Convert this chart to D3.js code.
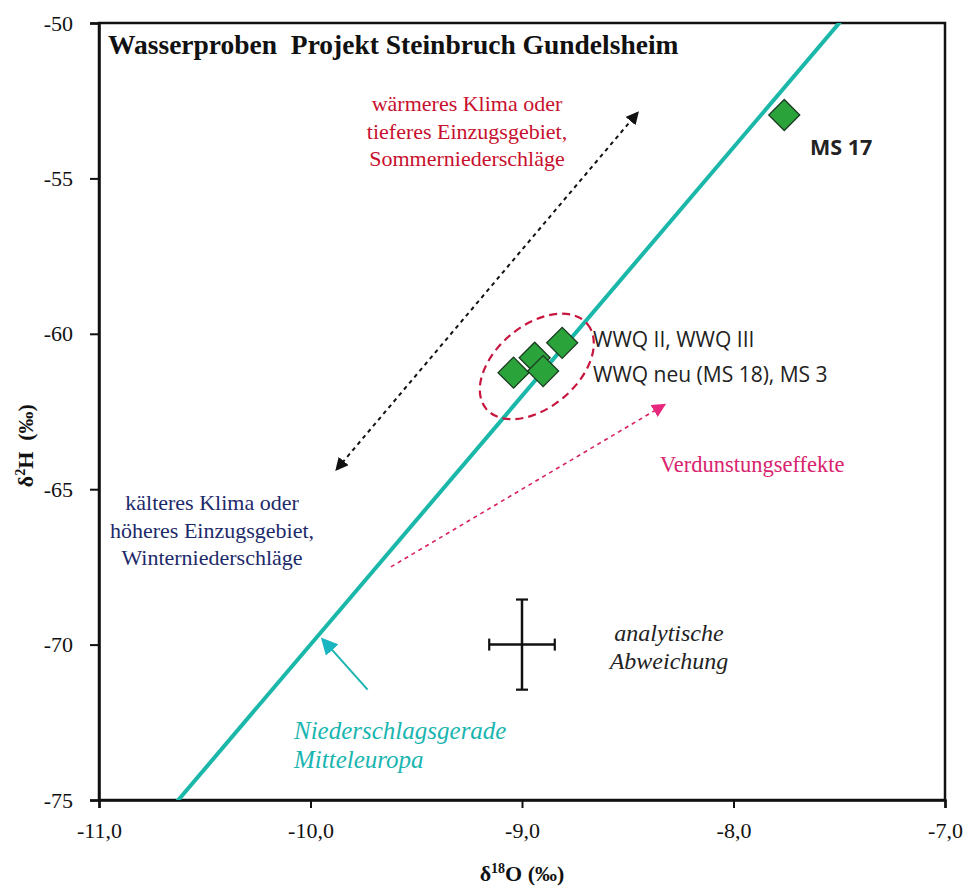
<!DOCTYPE html>
<html>
<head>
<meta charset="utf-8">
<script src="https://cdn.jsdelivr.net/npm/d3@7"></script>
<style>
  body { margin: 0; background: #fff; }
  svg text { font-family: "Liberation Serif", "Times New Roman", serif; }
</style>
</head>
<body>
<script>
// data
var sampleNames = ["MS 17", "WWQ II", "WWQ III", "WWQ neu (MS 18)", "MS 3"];
var d18O = [-7.76, -9.04, -8.94, -8.90, -8.81];
var d2H  = [-52.96, -61.25, -60.77, -61.2, -60.29];

var xTicks = [-11, -10, -9, -8, -7];
var yTicks = [-50, -55, -60, -65, -70, -75];

// Niederschlagsgerade: d2H = 8 * d18O + 10
var lineSlope = 8, lineIntercept = 10;
var lineO = [-11, -7];

// analytische Abweichung (centre and half ranges)
var errCenter = [-9.0, -70.0];
var errHalf = [0.155, 1.45];

// arrows [x1, y1, x2, y2] in data units
var climateArrow = [-9.875, -64.35, -8.455, -52.9];
var evapArrow = [-9.62, -67.5, -8.33, -62.3];
var mwlArrow = [-9.73, -71.45, -9.94, -69.85];

var width = 969, height = 888;
var margin = {top: 23, right: 24, bottom: 88, left: 99};

var svg = d3.select("body").append("svg")
  .attr("width", width).attr("height", height);

var defs = svg.append("defs");
function marker(id, color, size) {
  defs.append("marker")
    .attr("id", id)
    .attr("viewBox", "0 0 10 10")
    .attr("refX", 8).attr("refY", 5)
    .attr("markerWidth", size).attr("markerHeight", size)
    .attr("markerUnits", "userSpaceOnUse")
    .attr("orient", "auto-start-reverse")
    .append("path").attr("d", "M0,0 L10,5 L0,10 z").attr("fill", color);
}
marker("arrBlack", "#111", 13);
marker("arrPink", "#e8287f", 14);
marker("arrCyan", "#19b5c0", 17);

var x = d3.scaleLinear().domain([-11, -7]).range([margin.left, width - margin.right]);
var y = d3.scaleLinear().domain([-75, -50]).range([height - margin.bottom, margin.top]);

defs.append("clipPath").attr("id", "plotclip")
  .append("rect")
  .attr("x", x(-11)).attr("y", y(-50))
  .attr("width", x(-7) - x(-11)).attr("height", y(-75) - y(-50));

// frame
svg.append("rect")
  .attr("x", x(-11)).attr("y", y(-50))
  .attr("width", x(-7) - x(-11)).attr("height", y(-75) - y(-50))
  .attr("fill", "none").attr("stroke", "#111").attr("stroke-width", 2.5);

// axes
var fmt = function(d) { return d3.format(".1f")(d).replace(".", ",").replace("−", "-"); };
var xAxis = svg.append("g")
  .attr("transform", "translate(0," + y(-75) + ")")
  .call(d3.axisBottom(x).tickValues(xTicks).tickSize(8).tickPadding(14).tickFormat(fmt));
var yAxis = svg.append("g")
  .attr("transform", "translate(" + x(-11) + ",0)")
  .call(d3.axisLeft(y).tickValues(yTicks).tickSize(9).tickPadding(17)
    .tickFormat(function(d) { return String(d); }));
[xAxis, yAxis].forEach(function(g) {
  g.attr("font-family", "'Liberation Serif', serif").attr("font-size", 22);
  g.select(".domain").attr("stroke", "#111").attr("stroke-width", 2.5);
  g.selectAll(".tick line").attr("stroke", "#111").attr("stroke-width", 2);
  g.selectAll(".tick text").attr("fill", "#111").style("font-size", "22px");
});

// axis titles
var xt = svg.append("text")
  .attr("x", x(-9)).attr("y", 881)
  .attr("text-anchor", "middle").attr("font-size", 22).attr("font-weight", "bold").attr("fill", "#111");
xt.append("tspan").text("δ");
xt.append("tspan").text("18").attr("font-size", 14).attr("dy", -8);
xt.append("tspan").text("O (‰)").attr("dy", 8);

var yt = svg.append("text")
  .attr("transform", "translate(33," + y(-63.6) + ") rotate(-90)")
  .attr("text-anchor", "middle").attr("font-size", 22).attr("font-weight", "bold").attr("fill", "#111")
  .attr("xml:space", "preserve");
yt.append("tspan").text("δ");
yt.append("tspan").text("2").attr("font-size", 14).attr("dy", -8);
yt.append("tspan").text("H  (‰)").attr("dy", 8);

var plot = svg.append("g").attr("clip-path", "url(#plotclip)");

// meteoric water line
plot.append("line")
  .attr("x1", x(lineO[0])).attr("y1", y(lineSlope * lineO[0] + lineIntercept))
  .attr("x2", x(lineO[1])).attr("y2", y(lineSlope * lineO[1] + lineIntercept))
  .attr("stroke", "#1bb8a9").attr("stroke-width", 4);

// ellipse round the cluster
svg.append("ellipse")
  .attr("transform", "translate(" + x(-8.93) + "," + y(-61.05) + ") rotate(-40)")
  .attr("rx", 66).attr("ry", 41)
  .attr("fill", "none").attr("stroke", "#c8173f").attr("stroke-width", 2.2)
  .attr("stroke-dasharray", "8,5");

// climate double arrow
svg.append("line")
  .attr("x1", x(climateArrow[0])).attr("y1", y(climateArrow[1]))
  .attr("x2", x(climateArrow[2])).attr("y2", y(climateArrow[3]))
  .attr("stroke", "#111").attr("stroke-width", 2).attr("stroke-dasharray", "4,4")
  .attr("marker-start", "url(#arrBlack)").attr("marker-end", "url(#arrBlack)");

// evaporation arrow
svg.append("line")
  .attr("x1", x(evapArrow[0])).attr("y1", y(evapArrow[1]))
  .attr("x2", x(evapArrow[2])).attr("y2", y(evapArrow[3]))
  .attr("stroke", "#d81f5f").attr("stroke-width", 1.6).attr("stroke-dasharray", "4,4")
  .attr("marker-end", "url(#arrPink)");

// cyan pointer
svg.append("line")
  .attr("x1", x(mwlArrow[0])).attr("y1", y(mwlArrow[1]))
  .attr("x2", x(mwlArrow[2])).attr("y2", y(mwlArrow[3]))
  .attr("stroke", "#19b5b0").attr("stroke-width", 2)
  .attr("marker-end", "url(#arrCyan)");

// error cross
svg.append("line")
  .attr("x1", x(errCenter[0] - errHalf[0])).attr("x2", x(errCenter[0] + errHalf[0]))
  .attr("y1", y(errCenter[1])).attr("y2", y(errCenter[1]))
  .attr("stroke", "#111").attr("stroke-width", 2.5);
svg.append("line")
  .attr("x1", x(errCenter[0])).attr("x2", x(errCenter[0]))
  .attr("y1", y(errCenter[1] - errHalf[1])).attr("y2", y(errCenter[1] + errHalf[1]))
  .attr("stroke", "#111").attr("stroke-width", 2.5);
[-errHalf[0], errHalf[0]].forEach(function(o) {
  svg.append("line")
    .attr("x1", x(errCenter[0] + o)).attr("x2", x(errCenter[0] + o))
    .attr("y1", y(errCenter[1]) - 6).attr("y2", y(errCenter[1]) + 6)
    .attr("stroke", "#111").attr("stroke-width", 2.2);
});
[-errHalf[1], errHalf[1]].forEach(function(o) {
  svg.append("line")
    .attr("x1", x(errCenter[0]) - 6).attr("x2", x(errCenter[0]) + 6)
    .attr("y1", y(errCenter[1] + o)).attr("y2", y(errCenter[1] + o))
    .attr("stroke", "#111").attr("stroke-width", 2.2);
});

// sample diamonds
var pts = sampleNames.map(function(n, i) { return {name: n, o: d18O[i], h: d2H[i]}; });
svg.selectAll("path.pt").data(pts).enter().append("path")
  .attr("class", "pt")
  .attr("d", d3.symbol().type(d3.symbolSquare).size(480))
  .attr("transform", function(d) { return "translate(" + x(d.o) + "," + y(d.h) + ") rotate(45)"; })
  .attr("fill", "#2aa33a").attr("stroke", "#1b3a22").attr("stroke-width", 1.3);

// texts
svg.append("text").attr("x", 108).attr("y", 54)
  .attr("font-size", 27.5).attr("font-weight", "bold").attr("fill", "#111")
  .attr("xml:space", "preserve")
  .text("Wasserproben  Projekt Steinbruch Gundelsheim");

var sans = "'Open Sans', 'Liberation Sans', sans-serif";
svg.append("text").attr("x", 810).attr("y", 155)
  .style("font-family", sans).attr("font-size", 21.5).attr("font-weight", "bold").attr("fill", "#222")
  .text("MS 17");
svg.append("text").attr("x", 593).attr("y", 347)
  .style("font-family", sans).attr("font-size", 21).attr("fill", "#222")
  .text("WWQ II, WWQ III");
svg.append("text").attr("x", 593).attr("y", 382)
  .style("font-family", sans).attr("font-size", 21).attr("fill", "#222")
  .text("WWQ neu (MS 18), MS 3");

function lines(xc, y0, dy, arr, attrs) {
  var t = svg.append("text").attr("text-anchor", "middle");
  Object.keys(attrs).forEach(function(k) { t.attr(k, attrs[k]); });
  arr.forEach(function(s, i) {
    t.append("tspan").attr("x", xc).attr("y", y0 + i * dy).text(s);
  });
  return t;
}
lines(467, 111, 27.5, ["wärmeres Klima oder", "tieferes Einzugsgebiet,", "Sommerniederschläge"],
  {"font-size": 22, "fill": "#c8102e"});
lines(212, 510, 27.5, ["kälteres Klima oder", "höheres Einzugsgebiet,", "Winterniederschläge"],
  {"font-size": 22, "fill": "#1c2a6a"});
lines(669, 641, 28, ["analytische", "Abweichung"],
  {"font-size": 24, "fill": "#222", "font-style": "italic"});
svg.append("text").attr("x", 660).attr("y", 472)
  .attr("font-size", 22.5).attr("fill", "#d8246e").text("Verdunstungseffekte");
var ni = svg.append("text").attr("font-size", 25).attr("font-style", "italic").attr("fill", "#19b5b0");
ni.append("tspan").attr("x", 294).attr("y", 739).text("Niederschlagsgerade");
ni.append("tspan").attr("x", 294).attr("y", 768).text("Mitteleuropa");
</script>
</body>
</html>
